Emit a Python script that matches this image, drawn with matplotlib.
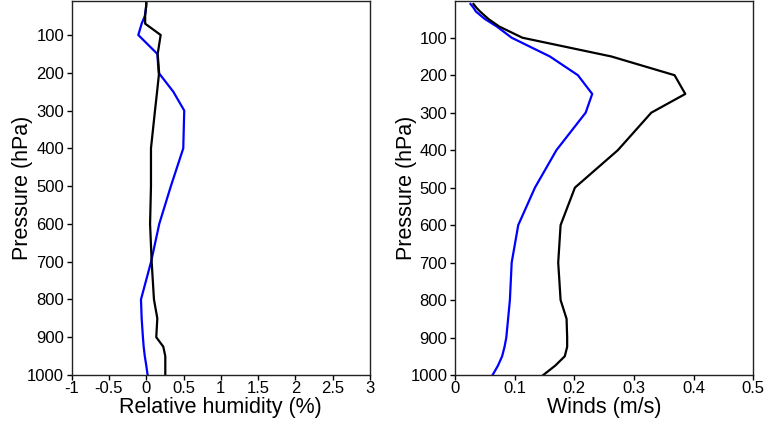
import matplotlib
matplotlib.use("Agg")
import matplotlib.pyplot as plt
from matplotlib.ticker import FuncFormatter

plt.rcParams['font.family'] = ['Liberation Sans', 'DejaVu Sans']

pressure = [10, 20, 30, 50, 70, 100, 150, 200, 250, 300, 400, 500, 600, 700,
            800, 850, 900, 925, 950, 975, 1000]

rh_black = [0.0, 0.0, -0.005, -0.015, -0.015, 0.193, 0.153, 0.172, 0.145, 0.117,
            0.063, 0.063, 0.051, 0.072, 0.103, 0.148, 0.134, 0.228, 0.255, 0.255, 0.255]
rh_blue = [0.0, 0.0, -0.005, -0.02, -0.062, -0.107, 0.148, 0.166, 0.362, 0.509,
           0.496, 0.33, 0.174, 0.065, -0.071, -0.062, -0.045, -0.035, -0.02, 0.0, 0.018]

wind_black = [0.031, 0.036, 0.042, 0.056, 0.074, 0.113, 0.262, 0.368, 0.386, 0.329,
              0.273, 0.201, 0.177, 0.173, 0.177, 0.187, 0.188, 0.188, 0.184, 0.168, 0.148]
wind_blue = [0.026, 0.031, 0.035, 0.05, 0.07, 0.095, 0.159, 0.206, 0.230, 0.219,
             0.170, 0.134, 0.106, 0.095, 0.092, 0.089, 0.086, 0.083, 0.079, 0.072, 0.063]

rh_ticks = [-1, -0.5, 0, 0.5, 1, 1.5, 2, 2.5, 3]
wind_ticks = [0, 0.1, 0.2, 0.3, 0.4, 0.5]
p_ticks = [100, 200, 300, 400, 500, 600, 700, 800, 900, 1000]

W, H = 765, 426
fig = plt.figure(figsize=(W / 100, H / 100), dpi=100)
bot = (H - 375) / H
top = (H - 1) / H
ax1 = fig.add_axes([71.7 / W, bot, (370 - 71.7) / W, top - bot])
ax2 = fig.add_axes([455 / W, bot, (753.3 - 455) / W, top - bot])

ax1.plot(rh_blue, pressure, color='blue', lw=1.6)
ax1.plot(rh_black, pressure, color='black', lw=1.6)
ax2.plot(wind_blue, pressure, color='blue', lw=1.6)
ax2.plot(wind_black, pressure, color='black', lw=1.6)

ax1.set_xlim(-1, 3)
ax1.set_ylim(1000, 10)
ax2.set_xlim(0, 0.5)
ax2.set_ylim(1000, 2)

fmt = FuncFormatter(lambda v, pos: ('%g' % v))
for ax, xt in ((ax1, rh_ticks), (ax2, wind_ticks)):
    ax.set_xticks(xt)
    ax.set_yticks(p_ticks)
    ax.xaxis.set_major_formatter(fmt)
    ax.tick_params(axis='both', labelsize=12, length=3.5, width=1, direction='out',
                   top=False, right=False)
    ax.tick_params(axis='x', pad=0.5)
    ax.tick_params(axis='y', pad=2)
    for s in ax.spines.values():
        s.set_linewidth(1.0)
        s.set_color('#222222')
    ax.set_ylabel('Pressure (hPa)', fontsize=15.5)
    ax.yaxis.set_label_coords(-0.129, 0.5)

ax1.set_xlabel('Relative humidity (%)', fontsize=15.5, labelpad=1)
ax2.set_xlabel('Winds (m/s)', fontsize=15.5, labelpad=1)

fig.savefig('out.png', dpi=100)
